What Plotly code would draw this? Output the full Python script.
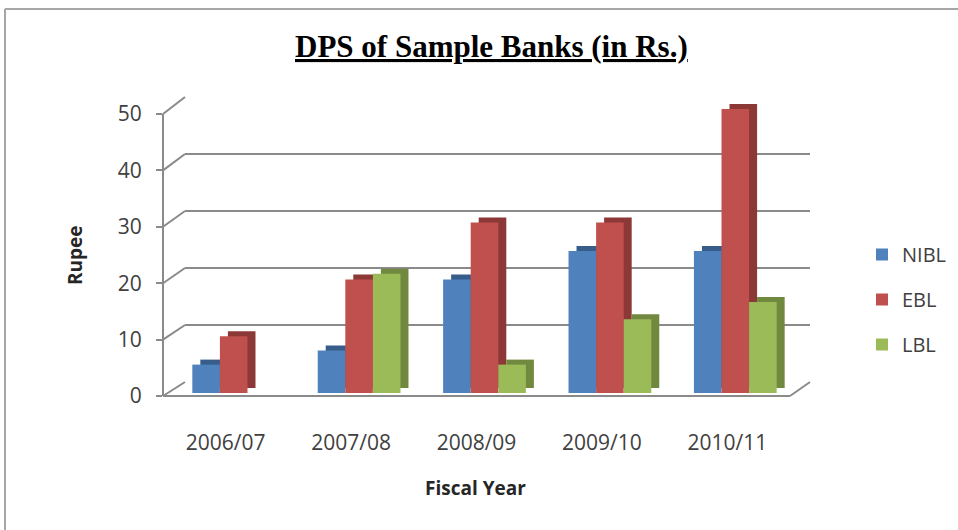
import plotly.graph_objects as go

# ---- data ----
years = ["2006/07", "2007/08", "2008/09", "2009/10", "2010/11"]
nibl = [5, 7.5, 20, 25, 25]
ebl = [10, 20, 30, 30, 50]
lbl = [0, 21, 5, 13, 16]
series_names = ["NIBL", "EBL", "LBL"]
tick_vals = [0, 10, 20, 30, 40, 50]

W, H = 958, 530
def fx(px):
    return px / W
def fy(py):
    return 1 - py / H

front_cols = ["#4F81BD", "#C0504D", "#9BBB59"]
side_cols = ["#385D8A", "#8C3836", "#71893F"]
grid_col = "#8a8a8a"
txt_col = "#404040"

# geometry (pixels)
WALL_X = (185, 810); WALL_Y0, WALL_Y50 = 382, 97
FRONT_X = (171, 798); FRONT_Y0, FRONT_Y50 = 393, 109
DX, DY = 8, 5
AX_X = 163; AX_Y0, AX_Y50 = 396, 114
LAB_X = (163, 790)

fig = go.Figure()
values = [nibl, ebl, lbl]

# wall subplot (gridlines) - invisible trace
fig.add_trace(go.Scatter(x=years, y=[None]*5, xaxis="x", yaxis="y", showlegend=False, hoverinfo="skip"))
# side / top faces (offset backwards)
for name, vals, c in zip(series_names, values, side_cols):
    fig.add_trace(go.Bar(x=years, y=vals, name=name, marker=dict(color=c, line=dict(width=0)),
                         xaxis="x2", yaxis="y2", showlegend=False, hoverinfo="skip"))
# front faces
for name, vals, c in zip(series_names, values, front_cols):
    fig.add_trace(go.Bar(x=years, y=vals, name=name, marker=dict(color=c, line=dict(width=0)),
                         xaxis="x3", yaxis="y3", legendgroup=name))
# front value axis + category label axis
fig.add_trace(go.Scatter(x=years, y=[None]*5, xaxis="x4", yaxis="y4", showlegend=False, hoverinfo="skip"))

hidden = dict(showgrid=False, zeroline=False, showticklabels=False, showline=False, ticks="")
cat_range = [-0.5, len(years) - 0.5]

layout = dict(
    width=W, height=H,
    margin=dict(l=0, r=0, t=0, b=0, autoexpand=False),
    paper_bgcolor="white", plot_bgcolor="rgba(0,0,0,0)",
    barmode="group", bargap=0.34, bargroupgap=0,
    xaxis=dict(domain=[fx(WALL_X[0]), fx(WALL_X[1])], anchor="y", range=cat_range, **hidden),
    yaxis=dict(domain=[fy(WALL_Y0), fy(WALL_Y50)], range=[0, 50], anchor="x", showgrid=True,
               gridcolor=grid_col, gridwidth=2, tickvals=tick_vals, zeroline=False,
               showticklabels=False, showline=False, ticks=""),
    xaxis2=dict(domain=[fx(FRONT_X[0] + DX), fx(FRONT_X[1] + DX)], anchor="y2", range=cat_range, **hidden),
    yaxis2=dict(domain=[fy(FRONT_Y0 - DY), fy(FRONT_Y50 - DY)], range=[0, 50], anchor="x2", **hidden),
    xaxis3=dict(domain=[fx(FRONT_X[0]), fx(FRONT_X[1])], anchor="y3", range=cat_range, **hidden),
    yaxis3=dict(domain=[fy(FRONT_Y0), fy(FRONT_Y50)], range=[0, 50], anchor="x3", **hidden),
    xaxis4=dict(domain=[fx(LAB_X[0]), fx(LAB_X[1])], anchor="free", position=fy(428), range=cat_range,
                showgrid=False, zeroline=False, showline=False, ticks="",
                tickfont=dict(family="Open Sans", size=21, color=txt_col)),
    yaxis4=dict(domain=[fy(AX_Y0), fy(AX_Y50)], range=[0, 50], anchor="free",
                position=fx(AX_X), tickvals=tick_vals, showgrid=False, zeroline=False,
                showline=True, linecolor=grid_col, linewidth=2, ticks="outside", ticklen=6,
                tickcolor=grid_col, tickwidth=2, ticklabelstandoff=10,
                tickfont=dict(family="Open Sans", size=21, color=txt_col)),
    legend=dict(x=fx(862), y=fy(235), xanchor="left", yanchor="top", tracegroupgap=16,
                font=dict(family="Open Sans", size=20, color=txt_col), bgcolor="rgba(0,0,0,0)"),
    showlegend=True,
)
fig.update_layout(**layout)

shapes = []
def line(x0, y0, x1, y1, color=grid_col, width=2):
    shapes.append(dict(type="line", xref="paper", yref="paper", x0=fx(x0), y0=fy(y0),
                       x1=fx(x1), y1=fy(y1), line=dict(color=color, width=width)))

def y_front(v):
    return AX_Y0 + (AX_Y50 - AX_Y0) * v / 50
def y_back(v):
    return WALL_Y0 + (WALL_Y50 - WALL_Y0) * v / 50

for v in tick_vals:
    line(AX_X, y_front(v), WALL_X[0], y_back(v))
# floor edges
line(AX_X, AX_Y0, LAB_X[1], AX_Y0)
line(LAB_X[1], AX_Y0, WALL_X[1], WALL_Y0)
# outer frame
line(5, 9, 5, 530, color="#a6a6a6", width=2)
line(5, 9, 958, 9, color="#a6a6a6", width=2)
fig.update_layout(shapes=shapes)

annotations = [
    dict(text="<b><u>DPS of Sample Banks (in Rs.)</u></b>", x=fx(491), y=fy(47), xref="paper", yref="paper",
         xanchor="center", yanchor="middle",
         showarrow=False, font=dict(family="Liberation Serif", size=31, color="black")),
    dict(text="<b>Rupee</b>", x=fx(75), y=fy(255), xref="paper", yref="paper", textangle=-90,
         xanchor="center", yanchor="middle",
         showarrow=False, font=dict(family="Open Sans", size=19, color="#262626")),
    dict(text="<b>Fiscal Year</b>", x=fx(475), y=fy(488), xref="paper", yref="paper",
         xanchor="center", yanchor="middle",
         showarrow=False, font=dict(family="Open Sans", size=19, color="#262626")),
]
fig.update_layout(annotations=annotations)

fig.write_html("out.html")
